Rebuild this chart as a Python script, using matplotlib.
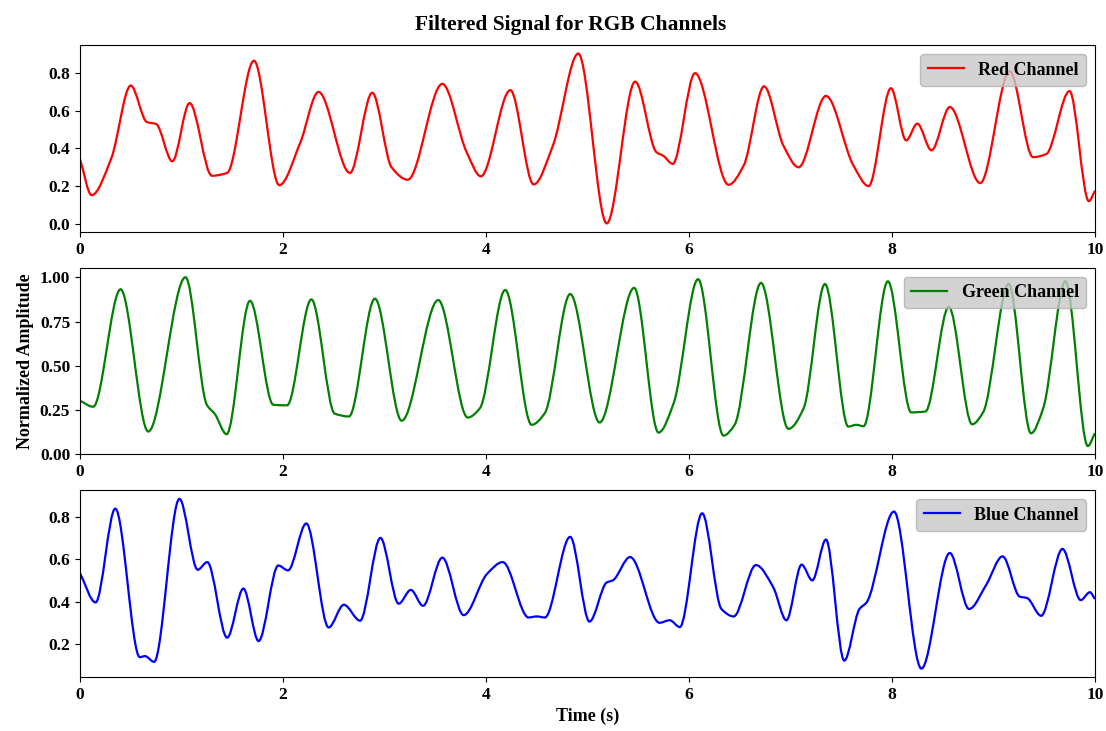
#External libraries import
import matplotlib.pyplot as plt
import numpy as np
from matplotlib.path import Path
from matplotlib.patches import PathPatch
from matplotlib.lines import Line2D

#Knot points (time in s, normalized amplitude)
red_t = [0.00, 0.115, 0.31, 0.50, 0.66, 0.75, 0.91, 1.08, 1.30, 1.45, 1.714, 1.964, 2.17, 2.35,
         2.66, 2.88, 3.07, 3.23, 3.57, 3.81, 3.95, 4.24, 4.47, 4.66, 4.91, 5.19, 5.47, 5.68,
         5.75, 5.84, 6.06, 6.39, 6.54, 6.74, 6.93, 7.08, 7.35, 7.62, 7.77, 7.99, 8.14, 8.25,
         8.39, 8.57, 8.87, 9.16, 9.39, 9.52, 9.75, 9.94, 10.0]
red_v = [0.345, 0.152, 0.35, 0.734, 0.54, 0.53, 0.332, 0.641, 0.255, 0.27, 0.866, 0.205, 0.43, 0.70,
         0.27, 0.696, 0.30, 0.234, 0.743, 0.38, 0.252, 0.71, 0.209, 0.416, 0.904, 0.002, 0.755, 0.38,
         0.36, 0.318, 0.80, 0.207, 0.31, 0.73, 0.416, 0.30, 0.679, 0.31, 0.20, 0.72, 0.443, 0.532,
         0.39, 0.62, 0.216, 0.81, 0.354, 0.37, 0.705, 0.12, 0.175]

green_t = [0.00, 0.13, 0.40, 0.673, 1.04, 1.25, 1.33, 1.445, 1.675, 1.905, 2.04, 2.28, 2.51, 2.65,
           2.906, 3.17, 3.53, 3.82, 3.94, 4.19, 4.45, 4.58, 4.83, 5.12, 5.46, 5.70, 5.85, 6.09,
           6.34, 6.45, 6.71, 6.98, 7.13, 7.34, 7.57, 7.65, 7.72, 7.96, 8.19, 8.33, 8.56, 8.79,
           8.90, 9.15, 9.37, 9.49, 9.71, 9.93, 10.0]
green_v = [0.303, 0.269, 0.932, 0.129, 1.0, 0.28, 0.227, 0.114, 0.867, 0.28, 0.277, 0.875, 0.23, 0.214,
           0.879, 0.19, 0.871, 0.208, 0.26, 0.928, 0.167, 0.233, 0.905, 0.18, 0.94, 0.123, 0.29, 0.989,
           0.106, 0.167, 0.968, 0.144, 0.26, 0.962, 0.157, 0.167, 0.159, 0.977, 0.237, 0.242, 0.833, 0.17,
           0.24, 0.962, 0.119, 0.26, 0.977, 0.047, 0.12]

blue_t = [0.00, 0.154, 0.348, 0.59, 0.64, 0.73, 0.98, 1.16, 1.254, 1.45, 1.61, 1.76, 1.954, 2.05,
          2.23, 2.45, 2.60, 2.76, 2.96, 3.14, 3.26, 3.38, 3.57, 3.78, 4.01, 4.165, 4.42, 4.50,
          4.58, 4.83, 5.02, 5.19, 5.25, 5.42, 5.71, 5.81, 5.91, 6.13, 6.32, 6.44, 6.66, 6.83,
          6.96, 7.11, 7.215, 7.35, 7.53, 7.68, 7.75, 8.02, 8.29, 8.57, 8.76, 8.93, 9.09, 9.26,
          9.33, 9.47, 9.68, 9.86, 9.95, 10.0]
blue_v = [0.534, 0.396, 0.838, 0.138, 0.143, 0.116, 0.884, 0.55, 0.586, 0.23, 0.461, 0.214, 0.57, 0.547,
          0.768, 0.278, 0.385, 0.31, 0.70, 0.39, 0.455, 0.38, 0.607, 0.336, 0.53, 0.586, 0.325, 0.33,
          0.325, 0.705, 0.306, 0.49, 0.50, 0.61, 0.30, 0.312, 0.28, 0.816, 0.365, 0.33, 0.572, 0.468,
          0.312, 0.574, 0.50, 0.692, 0.122, 0.365, 0.396, 0.824, 0.084, 0.629, 0.365, 0.48, 0.613, 0.423,
          0.417, 0.333, 0.648, 0.407, 0.444, 0.412]

channels = ['Red Channel', 'Green Channel', 'Blue Channel']
colors = ['red', 'green', 'blue']
y_ticks = [[0.0, 0.2, 0.4, 0.6, 0.8], [0.0, 0.25, 0.5, 0.75, 1.0], [0.2, 0.4, 0.6, 0.8]]
y_limits = [(-0.043, 0.948), (0.0, 1.053), (0.045, 0.924)]

plt.rcParams['font.family'] = ['Liberation Serif', 'DejaVu Serif']
plt.rcParams['font.weight'] = 'bold'


def smooth_path(t, v):
    """Cubic Hermite (monotone tangents) path through the knots, as Bezier segments"""
    t = np.asarray(t, float)
    v = np.asarray(v, float)
    h = np.diff(t)
    d = np.diff(v) / h
    m = np.zeros_like(v)
    for k in range(1, len(v) - 1):
        if d[k - 1] * d[k] > 0:
            w1 = 2 * h[k] + h[k - 1]
            w2 = h[k] + 2 * h[k - 1]
            m[k] = (w1 + w2) / (w1 / d[k - 1] + w2 / d[k])
    m[0] = d[0]
    m[-1] = d[-1]
    verts = [(t[0], v[0])]
    codes = [Path.MOVETO]
    for k in range(len(h)):
        verts += [(t[k] + h[k] / 3, v[k] + m[k] * h[k] / 3),
                  (t[k + 1] - h[k] / 3, v[k + 1] - m[k + 1] * h[k] / 3),
                  (t[k + 1], v[k + 1])]
        codes += [Path.CURVE4] * 3
    return Path(verts, codes)


fig, axes = plt.subplots(3, 1, figsize=(11.06, 7.31), dpi=100)
fig.subplots_adjust(left=0.0723, right=0.990, top=0.938, bottom=0.074, hspace=0.193)

series = [(red_t, red_v), (green_t, green_v), (blue_t, blue_v)]
for ax, (t, v), name, col, ticks, lim in zip(axes, series, channels, colors, y_ticks, y_limits):
    ax.add_patch(PathPatch(smooth_path(t, v), fill=False, edgecolor=col, linewidth=1.6))
    ax.set_xlim(0, 10)
    ax.set_ylim(*lim)
    ax.set_xticks([0, 2, 4, 6, 8, 10])
    ax.set_yticks(ticks)
    if ticks[1] == 0.25:
        ax.set_yticklabels([f'{y:.2f}' for y in ticks])
    else:
        ax.set_yticklabels([f'{y:.1f}' for y in ticks])
    ax.tick_params(labelsize=12.5)
    handle = Line2D([], [], color=col, linewidth=1.6)
    ax.legend([handle], [name], loc='upper right', facecolor='#c8c8c8', framealpha=0.8,
              edgecolor='#b0b0b0', prop={'size': 13, 'weight': 'bold'})

axes[1].set_ylabel('Normalized Amplitude', fontsize=13, fontweight='bold')
axes[2].set_xlabel('Time (s)', fontsize=13, fontweight='bold')
fig.suptitle('Filtered Signal for RGB Channels', fontsize=15.5, fontweight='bold',
             x=0.516, y=0.979)

plt.savefig('out.png')
plt.close(fig)
